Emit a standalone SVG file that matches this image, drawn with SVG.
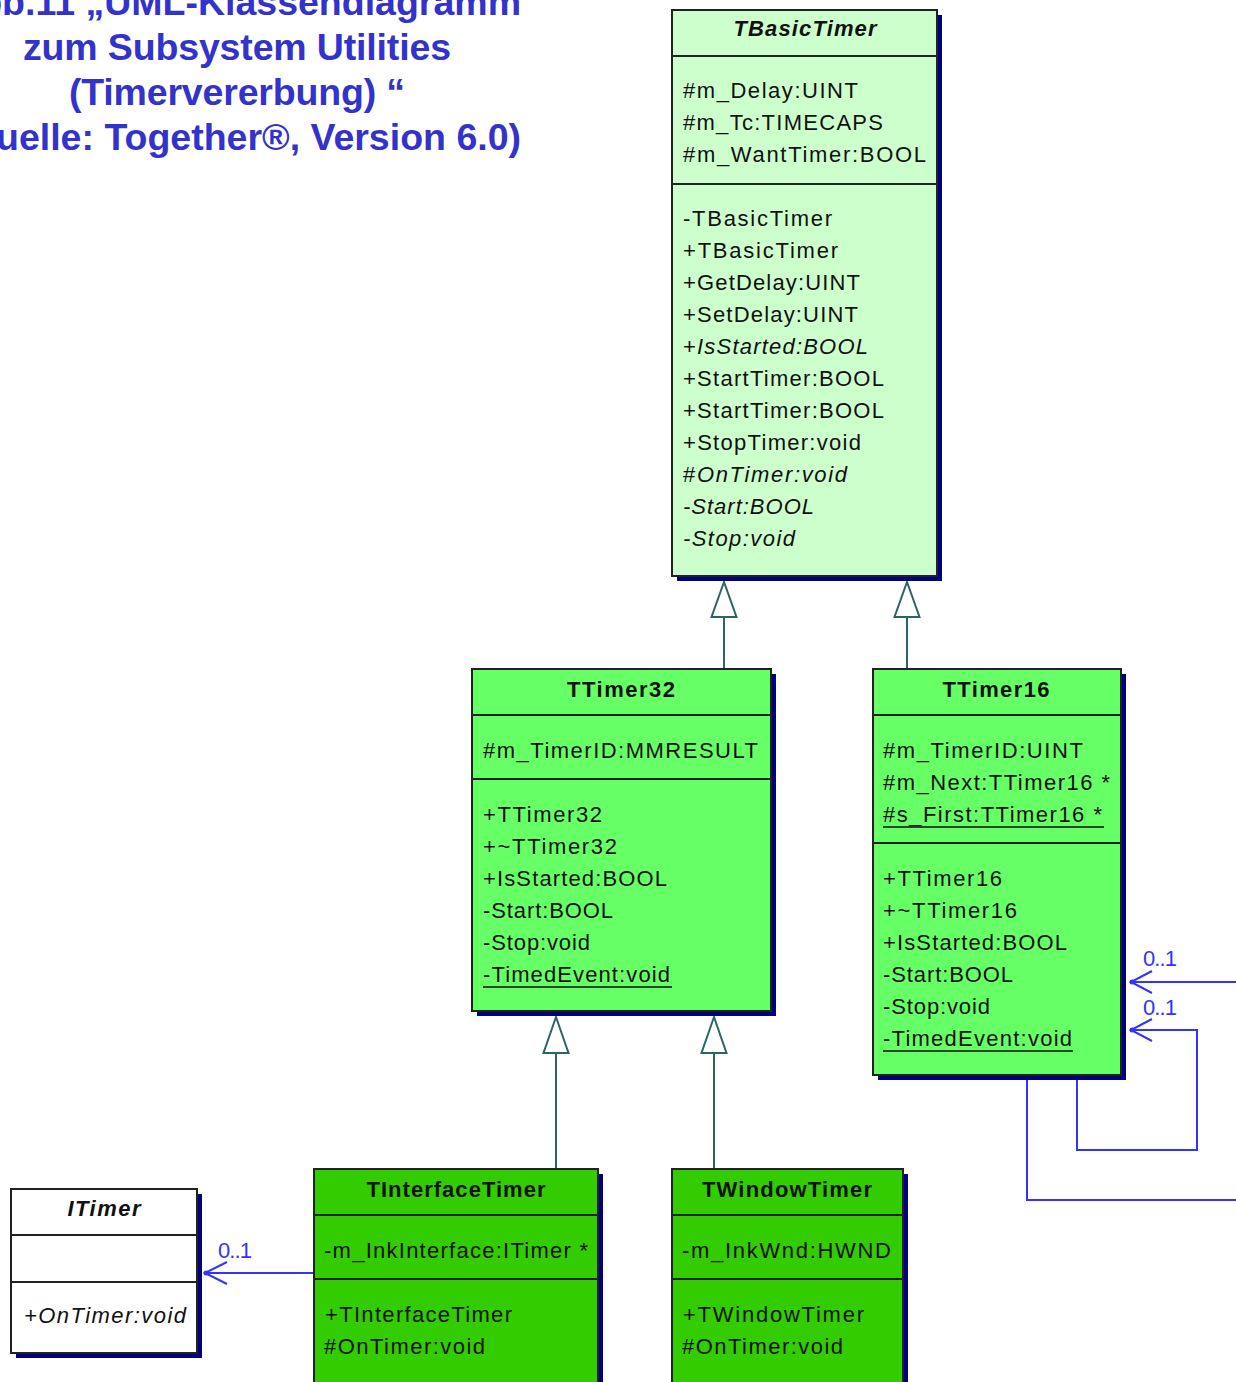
<svg xmlns="http://www.w3.org/2000/svg" width="1236" height="1382" viewBox="0 0 1236 1382">
<style>
.t{font-family:"Liberation Sans",Arial,sans-serif;font-size:22px;fill:#111}
.h{font-weight:bold;text-anchor:middle}
.i{font-style:italic}
.box{stroke:#222;stroke-width:2}
.sh{fill:#000080}
.sep{stroke:#222;stroke-width:2}
.ul{stroke:#111;stroke-width:1.5}
.gen{stroke:#2f6464;stroke-width:2;fill:none}
.tri{fill:#fff;stroke:#2f6464;stroke-width:2}
.asc{stroke:#3333ff;stroke-width:2;fill:none}
.dot{fill:#3333ff}
.lbl{font-family:"Liberation Sans",Arial,sans-serif;font-size:22px;fill:#3333ff}
.title{font-family:"Liberation Sans",Arial,sans-serif;font-size:37.5px;font-weight:bold;fill:#3333cc}
</style>
<rect width="1236" height="1382" fill="#fff"/>

<g id="title">
<text class="title" x="521" y="15" text-anchor="end">Abb.11 „UML-Klassendiagramm</text>
<text class="title" x="237" y="60" text-anchor="middle" textLength="428">zum Subsystem Utilities</text>
<text class="title" x="237" y="105" text-anchor="middle" textLength="336">(Timervererbung) “</text>
<text class="title" x="521" y="150" text-anchor="end">(Quelle: Together®, Version 6.0)</text>
</g>

<g id="connectors">
<line class="gen" x1="724" y1="669" x2="724" y2="617"/>
<polygon class="tri" points="724,582 711.5,617 736.5,617"/>
<line class="gen" x1="907" y1="669" x2="907" y2="617"/>
<polygon class="tri" points="907,582 894.5,617 919.5,617"/>
<line class="gen" x1="556" y1="1169" x2="556" y2="1053"/>
<polygon class="tri" points="556,1017 543.5,1053 568.5,1053"/>
<line class="gen" x1="714" y1="1169" x2="714" y2="1053"/>
<polygon class="tri" points="714,1017 701.5,1053 726.5,1053"/>

<line class="asc" x1="314" y1="1273" x2="205" y2="1273"/>
<polyline class="asc" points="227,1262 205,1273 227,1284"/>
<circle class="dot" cx="206" cy="1273" r="2.5"/>
<text class="lbl" x="218" y="1258" textLength="34">0..1</text>

<path class="asc" d="M1027,1077 V1200 H1250 V982 H1131"/>
<polyline class="asc" points="1152,971 1131,982 1152,993"/>
<circle class="dot" cx="1132" cy="982" r="2.5"/>
<text class="lbl" x="1143" y="966" textLength="34">0..1</text>

<path class="asc" d="M1077,1077 V1150 H1197 V1030 H1131"/>
<polyline class="asc" points="1152,1019 1131,1030 1152,1041"/>
<circle class="dot" cx="1132" cy="1030" r="2.5"/>
<text class="lbl" x="1143" y="1015" textLength="34">0..1</text>
</g>

<g id="TBasicTimer">
<rect class="sh" x="677" y="15" width="265" height="566"/>
<rect class="box" x="672" y="10" width="265" height="566" fill="#ccffcc"/>
<line class="sep" x1="672" y1="56" x2="937" y2="56"/>
<line class="sep" x1="672" y1="184" x2="937" y2="184"/>
<text class="t h i" x="805" y="36" textLength="143">TBasicTimer</text>
<text class="t" x="683" y="98" textLength="175">#m_Delay:UINT</text>
<text class="t" x="683" y="130" textLength="200">#m_Tc:TIMECAPS</text>
<text class="t" x="683" y="162" textLength="243">#m_WantTimer:BOOL</text>
<text class="t" x="683" y="226" textLength="149">-TBasicTimer</text>
<text class="t" x="683" y="258" textLength="155">+TBasicTimer</text>
<text class="t" x="683" y="290" textLength="177">+GetDelay:UINT</text>
<text class="t" x="683" y="322" textLength="175">+SetDelay:UINT</text>
<text class="t" x="683" y="354" textLength="185">+<tspan class="i">IsStarted:BOOL</tspan></text>
<text class="t" x="683" y="386" textLength="201">+StartTimer:BOOL</text>
<text class="t" x="683" y="418" textLength="201">+StartTimer:BOOL</text>
<text class="t" x="683" y="450" textLength="178">+StopTimer:void</text>
<text class="t" x="683" y="482" textLength="164">#<tspan class="i">OnTimer:void</tspan></text>
<text class="t i" x="683" y="514" textLength="131">-Start:BOOL</text>
<text class="t i" x="683" y="546" textLength="112">-Stop:void</text>
</g>

<g id="TTimer32">
<rect class="sh" x="477" y="674" width="299" height="342"/>
<rect class="box" x="472" y="669" width="299" height="342" fill="#66ff66"/>
<line class="sep" x1="472" y1="715" x2="771" y2="715"/>
<line class="sep" x1="472" y1="779" x2="771" y2="779"/>
<text class="t h" x="621" y="697" textLength="108">TTimer32</text>
<text class="t" x="483" y="758" textLength="275">#m_TimerID:MMRESULT</text>
<text class="t" x="483" y="822" textLength="119">+TTimer32</text>
<text class="t" x="483" y="854" textLength="134">+~TTimer32</text>
<text class="t" x="483" y="886" textLength="184">+IsStarted:BOOL</text>
<text class="t" x="483" y="918" textLength="130">-Start:BOOL</text>
<text class="t" x="483" y="950" textLength="107">-Stop:void</text>
<text class="t" x="483" y="982" textLength="187">-TimedEvent:void</text>
<line class="ul" x1="483" y1="987" x2="672" y2="987"/>
</g>

<g id="TTimer16">
<rect class="sh" x="878" y="674" width="248" height="406"/>
<rect class="box" x="873" y="669" width="248" height="406" fill="#66ff66"/>
<line class="sep" x1="873" y1="715" x2="1121" y2="715"/>
<line class="sep" x1="873" y1="843" x2="1121" y2="843"/>
<text class="t h" x="996" y="697" textLength="107">TTimer16</text>
<text class="t" x="883" y="758" textLength="200">#m_TimerID:UINT</text>
<text class="t" x="883" y="790" textLength="227">#m_Next:TTimer16 *</text>
<text class="t" x="883" y="822" textLength="219">#s_First:TTimer16 *</text>
<line class="ul" x1="883" y1="827" x2="1104" y2="827"/>
<text class="t" x="883" y="886" textLength="119">+TTimer16</text>
<text class="t" x="883" y="918" textLength="134">+~TTimer16</text>
<text class="t" x="883" y="950" textLength="184">+IsStarted:BOOL</text>
<text class="t" x="883" y="982" textLength="130">-Start:BOOL</text>
<text class="t" x="883" y="1014" textLength="107">-Stop:void</text>
<text class="t" x="883" y="1046" textLength="189">-TimedEvent:void</text>
<line class="ul" x1="883" y1="1051" x2="1073" y2="1051"/>
</g>

<g id="TInterfaceTimer">
<rect class="sh" x="319" y="1174" width="284" height="240"/>
<rect class="box" x="314" y="1169" width="284" height="240" fill="#33cc00"/>
<line class="sep" x1="314" y1="1215" x2="598" y2="1215"/>
<line class="sep" x1="314" y1="1279" x2="598" y2="1279"/>
<text class="t h" x="456" y="1197" textLength="179">TInterfaceTimer</text>
<text class="t" x="324" y="1258" textLength="264">-m_InkInterface:ITimer *</text>
<text class="t" x="325" y="1322" textLength="187">+TInterfaceTimer</text>
<text class="t" x="324" y="1354" textLength="161">#OnTimer:void</text>
</g>

<g id="TWindowTimer">
<rect class="sh" x="677" y="1174" width="231" height="240"/>
<rect class="box" x="672" y="1169" width="231" height="240" fill="#33cc00"/>
<line class="sep" x1="672" y1="1215" x2="903" y2="1215"/>
<line class="sep" x1="672" y1="1279" x2="903" y2="1279"/>
<text class="t h" x="787" y="1197" textLength="170">TWindowTimer</text>
<text class="t" x="682" y="1258" textLength="209">-m_InkWnd:HWND</text>
<text class="t" x="683" y="1322" textLength="181">+TWindowTimer</text>
<text class="t" x="682" y="1354" textLength="161">#OnTimer:void</text>
</g>

<g id="ITimer">
<rect class="sh" x="16" y="1194" width="186" height="164"/>
<rect class="box" x="11" y="1189" width="186" height="164" fill="#fff"/>
<line class="sep" x1="11" y1="1235" x2="197" y2="1235"/>
<line class="sep" x1="11" y1="1282" x2="197" y2="1282"/>
<text class="t h i" x="104" y="1216" textLength="73">ITimer</text>
<text class="t i" x="24" y="1323" textLength="162">+OnTimer:void</text>
</g>
</svg>
